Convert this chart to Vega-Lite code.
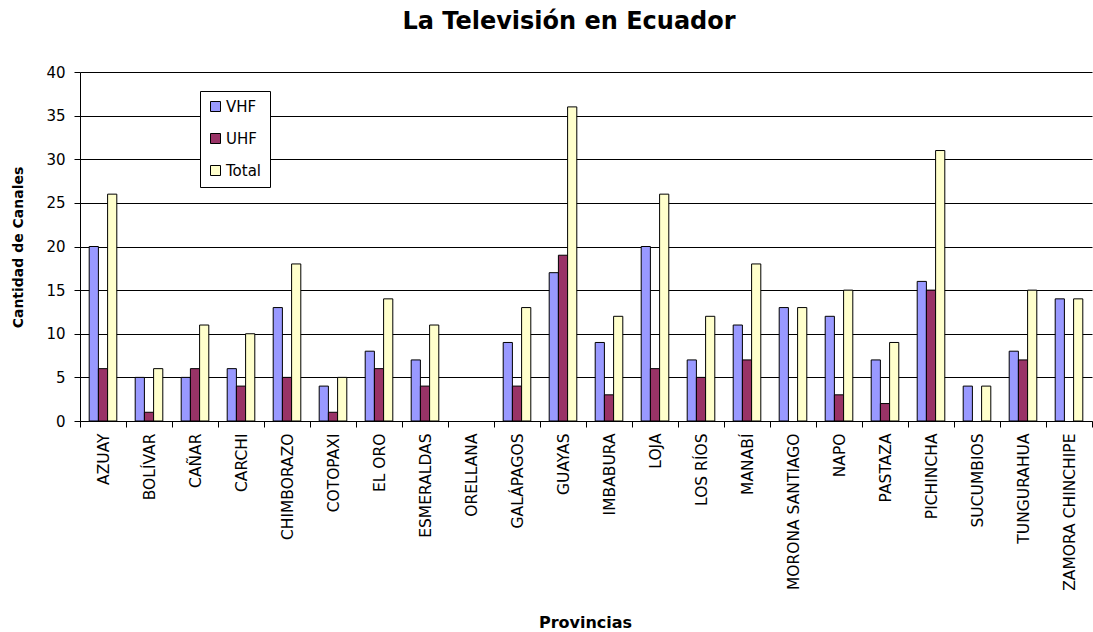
{
  "$schema": "https://vega.github.io/schema/vega-lite/v6.json",
  "autosize": "none",
  "width": 1012,
  "height": 349,
  "padding": {"left": 80, "top": 72, "right": 1, "bottom": 211},
  "background": "white",
  "title": {"text": "La Televisión en Ecuador", "font": "DejaVu Sans", "fontSize": 24, "fontWeight": "bold", "color": "black", "anchor": "middle", "offset": 31, "dx": -17},
  "data": {"values": [
    {"p": "AZUAY", "VHF": 20, "UHF": 6, "Total": 26},
    {"p": "BOLÍVAR", "VHF": 5, "UHF": 1, "Total": 6},
    {"p": "CAÑAR", "VHF": 5, "UHF": 6, "Total": 11},
    {"p": "CARCHI", "VHF": 6, "UHF": 4, "Total": 10},
    {"p": "CHIMBORAZO", "VHF": 13, "UHF": 5, "Total": 18},
    {"p": "COTOPAXI", "VHF": 4, "UHF": 1, "Total": 5},
    {"p": "EL ORO", "VHF": 8, "UHF": 6, "Total": 14},
    {"p": "ESMERALDAS", "VHF": 7, "UHF": 4, "Total": 11},
    {"p": "ORELLANA", "VHF": 0, "UHF": 0, "Total": 0},
    {"p": "GALÁPAGOS", "VHF": 9, "UHF": 4, "Total": 13},
    {"p": "GUAYAS", "VHF": 17, "UHF": 19, "Total": 36},
    {"p": "IMBABURA", "VHF": 9, "UHF": 3, "Total": 12},
    {"p": "LOJA", "VHF": 20, "UHF": 6, "Total": 26},
    {"p": "LOS RÍOS", "VHF": 7, "UHF": 5, "Total": 12},
    {"p": "MANABÍ", "VHF": 11, "UHF": 7, "Total": 18},
    {"p": "MORONA SANTIAGO", "VHF": 13, "UHF": 0, "Total": 13},
    {"p": "NAPO", "VHF": 12, "UHF": 3, "Total": 15},
    {"p": "PASTAZA", "VHF": 7, "UHF": 2, "Total": 9},
    {"p": "PICHINCHA", "VHF": 16, "UHF": 15, "Total": 31},
    {"p": "SUCUMBIOS", "VHF": 4, "UHF": 0, "Total": 4},
    {"p": "TUNGURAHUA", "VHF": 8, "UHF": 7, "Total": 15},
    {"p": "ZAMORA CHINCHIPE", "VHF": 14, "UHF": 0, "Total": 14}
  ]},
  "transform": [{"fold": ["VHF", "UHF", "Total"], "as": ["serie", "valor"]}],
  "mark": {"type": "bar", "stroke": "black", "strokeWidth": 1},
  "encoding": {
    "x": {"field": "p", "type": "nominal", "sort": null,
      "scale": {"paddingInner": 0, "paddingOuter": 0},
      "axis": {"title": "Provincias", "labelAngle": -90, "labelFont": "DejaVu Sans", "labelFontSize": 15.5, "labelColor": "black", "labelPadding": 6, "labelLimit": 300,
        "tickBand": "extent", "tickColor": "black", "tickSize": 6, "domainColor": "black",
        "titleFont": "DejaVu Sans", "titleFontSize": 16, "titleFontWeight": "bold", "titleColor": "black", "titleBaseline": "alphabetic", "titleY": 206, "titleX": 505}},
    "xOffset": {"field": "serie", "type": "nominal", "sort": ["VHF", "UHF", "Total"],
      "scale": {"paddingInner": 0, "paddingOuter": 1.05}},
    "y": {"field": "valor", "type": "quantitative",
      "scale": {"domain": [0, 40]},
      "axis": {"title": "Cantidad de Canales", "values": [0, 5, 10, 15, 20, 25, 30, 35, 40], "grid": true, "gridColor": "black", "gridOpacity": 1,
        "labelFont": "DejaVu Sans", "labelFontSize": 15, "labelColor": "black", "labelPadding": 9,
        "tickColor": "black", "tickSize": 6, "domainColor": "black",
        "titleFont": "DejaVu Sans", "titleFontSize": 14, "titleFontWeight": "bold", "titleColor": "black", "titleX": -62, "titleY": 175, "titleAngle": -90, "titleAlign": "center", "titleBaseline": "middle"}},
    "strokeOpacity": {"condition": {"test": "datum.valor == 0", "value": 0}, "value": 1},
    "color": {"field": "serie", "type": "nominal", "sort": ["VHF", "UHF", "Total"],
      "scale": {"domain": ["VHF", "UHF", "Total"], "range": ["#9999FF", "#993366", "#FFFFCC"]},
      "legend": {"title": null, "orient": "none", "legendX": 120, "legendY": 19,
        "fillColor": "white", "strokeColor": "black", "padding": 8, "rowPadding": 16,
        "symbolType": "square", "symbolSize": 100, "symbolStrokeColor": "black", "symbolStrokeWidth": 1, "symbolFillOpacity": 1, "symbolOpacity": 1,
        "labelFont": "DejaVu Sans", "labelFontSize": 15, "labelColor": "black", "labelOffset": 3}}
  },
  "config": {"view": {"stroke": null}, "axis": {"gridWidth": 1}}
}
